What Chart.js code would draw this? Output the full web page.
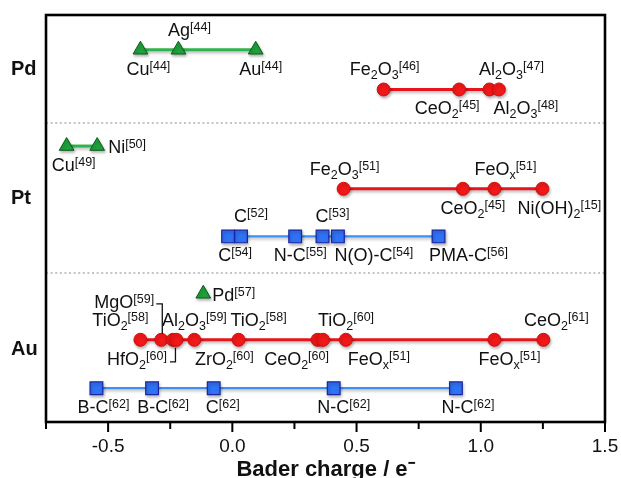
<!DOCTYPE html>
<html>
<head>
<meta charset="utf-8">
<script src="https://cdn.jsdelivr.net/npm/chart.js@4.4.1/dist/chart.umd.min.js"></script>
<style>
  html, body { margin: 0; padding: 0; background: #fff; }
  canvas { display: block; }
</style>
</head>
<body>
<canvas id="baderChart" width="621" height="478"></canvas>
<script>
// ---- data (Bader charge of the supported metal, e-) ----
const metals = ['Pd', 'Pt', 'Au'];

const pdOnMetal = [-0.37, -0.217, 0.094];
const pdOnMetalNames = ['Cu^[44]', 'Ag^[44]', 'Au^[44]'];
const pdOnOxide = [0.609, 0.913, 1.035, 1.073];
const pdOnOxideNames = ['Fe_2O_3^[46]', 'CeO_2^[45]', 'Al_2O_3^[47]', 'Al_2O_3^[48]'];

const ptOnMetal = [-0.667, -0.544];
const ptOnMetalNames = ['Cu^[49]', 'Ni^[50]'];
const ptOnOxide = [0.448, 0.928, 1.055, 1.248];
const ptOnOxideNames = ['Fe_2O_3^[51]', 'CeO_2^[45]', 'FeO_x^[51]', 'Ni(OH)_2^[15]'];
const ptOnCarbon = [-0.017, 0.035, 0.253, 0.363, 0.425, 0.83];
const ptOnCarbonNames = ['C^[54]', 'C^[52]', 'N-C^[55]', 'C^[53]', 'N(O)-C^[54]', 'PMA-C^[56]'];

const auOnMetal = [-0.117];
const auOnMetalNames = ['Pd^[57]'];
const auOnOxide = [-0.37, -0.286, -0.239, -0.225, -0.153, 0.025, 0.343, 0.365, 0.457, 1.055, 1.252];
const auOnOxideNames = ['TiO_2^[58]', 'MgO^[59]', 'HfO_2^[60]', 'Al_2O_3^[59]', 'ZrO_2^[60]', 'TiO_2^[58]',
                        'CeO_2^[60]', 'TiO_2^[60]', 'FeO_x^[51]', 'FeO_x^[51]', 'CeO_2^[61]'];
const auOnCarbon = [-0.547, -0.323, -0.075, 0.408, 0.90];
const auOnCarbonNames = ['B-C^[62]', 'B-C^[62]', 'C^[62]', 'N-C^[62]', 'N-C^[62]'];

// ---- layout: vertical levels of rows (y axis runs 0..10, top to bottom) ----
const metalLevels = [1.35, 4.52, 8.22];
const separatorLevels = [2.66, 6.34];

// label placement per point: [side, dx, bracket]
// side: a = above, a2 = two lines above, b = below, r = right
const pdOnMetalPlace = [['b', 8], ['a', 11], ['b', 5]];
const pdOnOxidePlace = [['a', 1], ['b', -12], ['a', 22], ['b', 27]];
const ptOnMetalPlace = [['b', 7], ['r', 11]];
const ptOnOxidePlace = [['a', 1], ['b', 10], ['a', 11], ['b', 17]];
const ptOnCarbonPlace = [['b', 7], ['a', 10], ['b', 5], ['a', 10], ['b', 36], ['b', 30]];
const auOnMetalPlace = [['r', 9]];
const auOnOxidePlace = [['a', -20], ['a2', -37, 'up'], ['b', -36, 'down'], ['a', 18], ['b', 30], ['a', 20],
                        ['b', -21], ['a', 23], ['b', 33], ['b', 15], ['a', 13]];
const auOnCarbonPlace = [['b', 7], ['b', 11], ['b', 9], ['b', 10], ['b', 12]];

const FONT = '"Liberation Sans", Arial, Helvetica, sans-serif';

const styles = {
  metal:  { pointStyle: 'triangle', pointRadius: 8.5, borderColor: '#2fb34c', borderWidth: 3,
            pointBackgroundColor: '#1ea23a', pointBorderColor: '#0e5a1f', pointBorderWidth: 1 },
  oxide:  { pointStyle: 'circle', pointRadius: 6.5, borderColor: '#e8141b', borderWidth: 3,
            pointBackgroundColor: '#f01818', pointBorderColor: '#d60d0d', pointBorderWidth: 1 },
  carbon: { pointStyle: 'rect', pointRadius: 9, borderColor: '#3d8ef5', borderWidth: 2.2,
            pointBackgroundColor: '#2f72f5', pointBorderColor: '#1a25a0', pointBorderWidth: 1.2 }
};

function row(values, names, place, level, kind) {
  return Object.assign({
    data: values.map(v => ({ x: v, y: level })),
    names: names,
    place: place,
    showLine: true,
    tension: 0,
    fill: false
  }, styles[kind]);
}

const datasets = [
  row(pdOnMetal, pdOnMetalNames, pdOnMetalPlace, 0.854, 'metal'),
  row(pdOnOxide, pdOnOxideNames, pdOnOxidePlace, 1.83, 'oxide'),
  row(ptOnMetal, ptOnMetalNames, ptOnMetalPlace, 3.22, 'metal'),
  row(ptOnOxide, ptOnOxideNames, ptOnOxidePlace, 4.27, 'oxide'),
  row(ptOnCarbon, ptOnCarbonNames, ptOnCarbonPlace, 5.44, 'carbon'),
  row(auOnMetal, auOnMetalNames, auOnMetalPlace, 6.85, 'metal'),
  row(auOnOxide, auOnOxideNames, auOnOxidePlace, 7.98, 'oxide'),
  row(auOnCarbon, auOnCarbonNames, auOnCarbonPlace, 9.17, 'carbon')
];

// split "Fe_2O_3^[46]" into normal / sub / sup pieces
function parseLabel(str) {
  const parts = [];
  let i = 0;
  while (i < str.length) {
    const c = str[i];
    if (c === '_') { parts.push({ t: str[i + 1], k: 'sub' }); i += 2; }
    else if (c === '^') { parts.push({ t: str.slice(i + 1), k: 'sup' }); break; }
    else {
      const last = parts[parts.length - 1];
      if (last && last.k === 'n') last.t += c; else parts.push({ t: c, k: 'n' });
      i++;
    }
  }
  return parts;
}

const MAIN = '18px ' + FONT;
const SMALL = '12.5px ' + FONT;

function drawRich(ctx, str, x, y, align) {
  const parts = parseLabel(str);
  let w = 0;
  parts.forEach(p => {
    ctx.font = p.k === 'n' ? MAIN : SMALL;
    p.w = ctx.measureText(p.t).width;
    w += p.w;
  });
  let cx = align === 'left' ? x : x - w / 2;
  ctx.textBaseline = 'alphabetic';
  ctx.textAlign = 'left';
  ctx.fillStyle = '#111';
  parts.forEach(p => {
    ctx.font = p.k === 'n' ? MAIN : SMALL;
    const dy = p.k === 'sub' ? 4 : (p.k === 'sup' ? -5 : 0);
    ctx.fillText(p.t, cx, y + dy);
    cx += p.w;
  });
}

const decorPlugin = {
  id: 'decor',
  beforeDatasetsDraw(chart) {
    const { ctx, chartArea: a, scales: { y } } = chart;
    ctx.save();
    ctx.strokeStyle = '#c4c4c4';
    ctx.lineWidth = 2;
    ctx.setLineDash([2, 2.6]);
    separatorLevels.forEach(v => {
      const py = Math.round(y.getPixelForValue(v));
      ctx.beginPath();
      ctx.moveTo(a.left, py);
      ctx.lineTo(a.right, py);
      ctx.stroke();
    });
    ctx.restore();
    // soft drop shadow under the lines and markers
    ctx.save();
    ctx.shadowColor = 'rgba(0,0,0,0.28)';
    ctx.shadowBlur = 3;
    ctx.shadowOffsetX = 1;
    ctx.shadowOffsetY = 2;
  },
  afterDatasetsDraw(chart) {
    const { ctx } = chart;
    ctx.restore();
    ctx.save();
    chart.data.datasets.forEach((ds, di) => {
      const meta = chart.getDatasetMeta(di);
      meta.data.forEach((pt, i) => {
        const [side, dx, bracket] = ds.place[i];
        const px = pt.x, py = pt.y;
        if (side === 'a') drawRich(ctx, ds.names[i], px + dx, py - 14, 'center');
        else if (side === 'a2') drawRich(ctx, ds.names[i], px + dx, py - 32, 'center');
        else if (side === 'b') drawRich(ctx, ds.names[i], px + dx, py + 25, 'center');
        else if (side === 'r') drawRich(ctx, ds.names[i], px + dx, py + 7, 'left');
        if (bracket) {
          ctx.strokeStyle = '#111';
          ctx.lineWidth = 1.3;
          ctx.beginPath();
          if (bracket === 'up') {
            ctx.moveTo(px - 5, py - 36);
            ctx.lineTo(px + 1, py - 36);
            ctx.lineTo(px + 1, py - 6);
          } else {
            ctx.moveTo(px - 3, py + 22);
            ctx.lineTo(px + 2.5, py + 22);
            ctx.lineTo(px + 2.5, py + 8);
          }
          ctx.stroke();
        }
      });
    });
    ctx.restore();
  },
  afterDraw(chart) {
    const { ctx, chartArea: a, scales: { x } } = chart;
    ctx.save();
    ctx.strokeStyle = '#000';
    ctx.lineWidth = 2;
    x.ticks.forEach(t => {
      const px = x.getPixelForValue(t.value);
      const major = t.label !== '';
      ctx.beginPath();
      ctx.moveTo(px, a.bottom);
      ctx.lineTo(px, a.bottom + (major ? 10 : 7));
      ctx.stroke();
    });
    ctx.lineWidth = 2.6;
    ctx.strokeRect(a.left, a.top, a.right - a.left, a.bottom - a.top);
    ctx.restore();
  }
};

new Chart(document.getElementById('baderChart').getContext('2d'), {
  type: 'line',
  data: { datasets: datasets },
  options: {
    responsive: false,
    animation: false,
    layout: { padding: { top: 12, right: 16, left: 11, bottom: 0 } },
    plugins: { legend: { display: false }, tooltip: { enabled: false } },
    scales: {
      x: {
        type: 'linear',
        min: -0.75,
        max: 1.5,
        grid: { display: false, drawTicks: false },
        border: { display: false },
        ticks: {
          stepSize: 0.25,
          autoSkip: false,
          maxRotation: 0,
          padding: 13,
          color: '#111',
          font: { family: FONT, size: 19 },
          callback: v => Math.abs(v * 2 - Math.round(v * 2)) < 1e-6 ? v.toFixed(1) : ''
        },
        title: {
          display: true,
          text: 'Bader charge / e\u207B',
          color: '#111',
          font: { family: FONT, size: 22, weight: 'bold' },
          padding: { top: 0, bottom: -5 }
        },
        afterFit: s => { s.height = 56; s.paddingLeft = 0; s.paddingRight = 0; }
      },
      y: {
        type: 'linear',
        min: 0,
        max: 10,
        reverse: true,
        grid: { display: false, drawTicks: false },
        border: { display: false },
        afterBuildTicks: s => { s.ticks = metalLevels.map(v => ({ value: v })); },
        ticks: {
          crossAlign: 'far',
          color: '#111',
          font: { family: FONT, size: 20, weight: 'bold' },
          callback: (v, i) => metals[i]
        },
        afterFit: s => { s.width = 35; }
      }
    }
  },
  plugins: [decorPlugin]
});
</script>
</body>
</html>
